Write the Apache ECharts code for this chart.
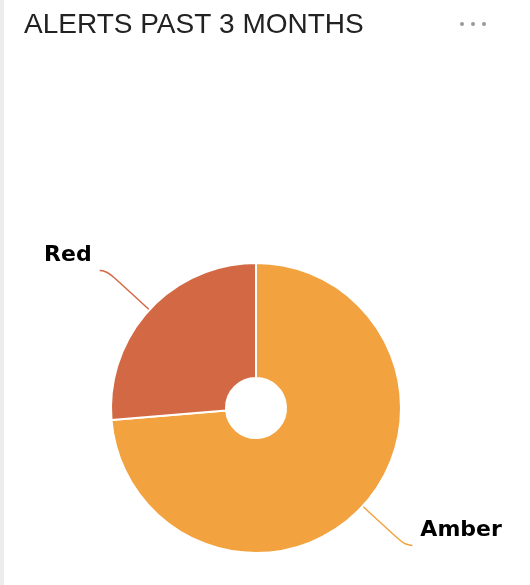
<!DOCTYPE html>
<html><head><meta charset="utf-8">
<script src="https://cdn.jsdelivr.net/npm/echarts@6/dist/echarts.min.js"></script>
<style>html,body{margin:0;padding:0;background:#fff}#c{width:530px;height:585px}</style>
</head><body><div id="c"></div>
<script>
const categories = ['Amber', 'Red'];
const values = [28, 10];
const colors = ['#F2A33F', '#D36944'];
const titleText = 'ALERTS PAST 3 MONTHS';

const chart = echarts.init(document.getElementById('c'), null, {renderer: 'canvas'});
chart.setOption({
  animation: false,
  backgroundColor: '#fff',
  title: {
    text: titleText, left: 19, top: 6,
    textStyle: {fontFamily: 'Liberation Sans', fontSize: 28, fontWeight: 'normal', color: '#222'}
  },
  graphic: [
    {type: 'rect', shape: {x: 0, y: 0, width: 4, height: 585}, style: {fill: '#ececec'}},
    {type: 'circle', shape: {cx: 462, cy: 24, r: 2}, style: {fill: '#999'}},
    {type: 'circle', shape: {cx: 473, cy: 24, r: 2}, style: {fill: '#999'}},
    {type: 'circle', shape: {cx: 484, cy: 24, r: 2}, style: {fill: '#999'}}
  ],
  series: [{
    type: 'pie',
    center: [256, 408],
    radius: [30, 145],
    startAngle: 90,
    clockwise: true,
    itemStyle: {borderColor: '#fff', borderWidth: 2},
    label: {
      show: true, formatter: '{b}\n ',
      fontFamily: 'DejaVu Sans', fontWeight: 'bold', fontSize: 22, lineHeight: 30, color: '#000',
      distanceToLabelLine: 8
    },
    labelLine: {show: true, length: 58, length2: 7, smooth: 0.6, lineStyle: {width: 1.5}},
    data: categories.map((c, i) => ({name: c, value: values[i], itemStyle: {color: colors[i]}}))
  }]
});
</script></body></html>
